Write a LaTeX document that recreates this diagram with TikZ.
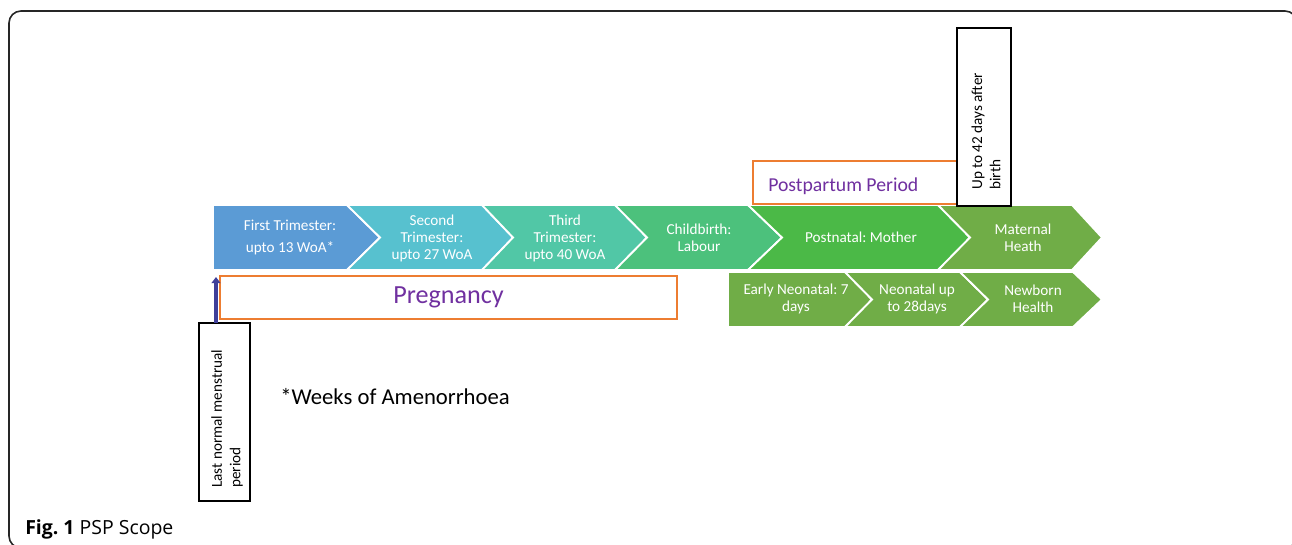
\documentclass[tikz,border=0pt]{standalone}
\usepackage{fontspec}
\setmainfont{Carlito}
\newfontfamily\capfont{Open Sans}
\usetikzlibrary{arrows.meta}
\frenchspacing
\definecolor{cA}{HTML}{5B9BD5}
\definecolor{cB}{HTML}{57C1CF}
\definecolor{cC}{HTML}{51C7A6}
\definecolor{cD}{HTML}{4CC17C}
\definecolor{cE}{HTML}{4BB947}
\definecolor{cF}{HTML}{70AD47}
\definecolor{orangeC}{HTML}{ED7D31}
\definecolor{purpleC}{HTML}{7030A0}
\definecolor{arrowC}{HTML}{3F3F99}
\begin{document}
\begin{tikzpicture}[x=0.75pt,y=-0.75pt,
  chev/.style={draw=white, line width=1.4pt, line join=miter},
  ctext/.style={text=white, font=\fontsize{11.4}{12.75}\selectfont, align=center, inner sep=0},
  obox/.style={draw=orangeC, line width=1.4pt, fill=white},
  kbox/.style={draw=black, line width=1.1pt, fill=white, inner sep=0},
  rtext/.style={rotate=90, anchor=west, align=left, inner sep=0, font=\fontsize{11.4}{13.8}\selectfont}]
\useasboundingbox (0,0) rectangle (1292,544);
\begin{scope}
\clip (0,0) rectangle (1292,544);
\draw[line width=1.2pt, rounded corners=9pt, black!85] (9,11) rectangle (1297,548);
\end{scope}
% row 1 chevrons
\filldraw[fill=cA, chev] (213,205) -- (347,205) -- (380,237.5) -- (347,270) -- (213,270) -- cycle;
\filldraw[fill=cB, chev] (347,205) -- (482,205) -- (513,237.5) -- (482,270) -- (347,270) -- (380,237.5) -- cycle;
\filldraw[fill=cC, chev] (482,205) -- (615,205) -- (647,237.5) -- (615,270) -- (482,270) -- (513,237.5) -- cycle;
\filldraw[fill=cD, chev] (615,205) -- (748,205) -- (782,237.5) -- (748,270) -- (615,270) -- (647,237.5) -- cycle;
\filldraw[fill=cE, chev] (748,205) -- (938,205) -- (970,237.5) -- (938,270) -- (748,270) -- (782,237.5) -- cycle;
\filldraw[fill=cF, chev] (938,205) -- (1072,205) -- (1102,237.5) -- (1072,270) -- (938,270) -- (970,237.5) -- cycle;
% row 2 chevrons
\filldraw[fill=cF, chev] (728,272) -- (845,272) -- (872,299.5) -- (845,327) -- (728,327) -- cycle;
\filldraw[fill=cF, chev] (845,272) -- (960,272) -- (988,299.5) -- (960,327) -- (845,327) -- (872,299.5) -- cycle;
\filldraw[fill=cF, chev] (960,272) -- (1073,272) -- (1102,299.5) -- (1073,327) -- (960,327) -- (988,299.5) -- cycle;
% chevron texts
\node[ctext, font=\fontsize{11.4}{17.2}\selectfont] (t1) at (290,237.5) {First Trimester:\\upto 13 WoA*};
\node[ctext] (t2) at (432,238) {Second\\Trimester:\\upto 27 WoA};
\node[ctext] (t3) at (565,238) {Third\\Trimester:\\upto 40 WoA};
\node[ctext] (t4) at (699,237.5) {Childbirth:\\Labour};
\node[ctext] (t5) at (861,237.5) {Postnatal: Mother};
\node[ctext] (t6) at (1023,237.5) {Maternal\\Heath};
\node[ctext] (t7) at (796,298.5) {Early Neonatal: 7\\days};
\node[ctext] (t8) at (917,298.5) {Neonatal up\\to 28days};
\node[ctext] (t9) at (1033,298.5) {Newborn\\Health};
% pregnancy box
\node[obox, minimum width=342.75pt, minimum height=32.25pt, inner sep=0] (pregbox) at (448.5,297.5) {};
\node[text=purpleC, font=\fontsize{19.6}{22}\selectfont, inner sep=0] (preg) at (448.5,297.5) {Pregnancy};
% postpartum box
\node[obox, minimum width=153.75pt, minimum height=32.25pt, inner sep=0] (ppbox) at (855.5,182.5) {};
\node[text=purpleC, font=\fontsize{14.8}{17}\selectfont, anchor=west, inner sep=0] (pp) at (768,186.5) {Postpartum Period};
% up to 42 days box
\node[kbox, minimum width=40.5pt, minimum height=133.5pt] (upbox) at (984,117) {};
\node[rtext] (uptext) at (986,190) {Up to 42 days after\\birth};
% last normal menstrual period box
\node[kbox, minimum width=38.25pt, minimum height=133.5pt] (lmpbox) at (224.5,412) {};
\node[rtext] (lmptext) at (227,488) {Last normal menstrual\\period};
\coordinate (lmpTop) at (216,323);
\coordinate (lmpTip) at (216,277);
\draw[arrowC, line width=2.6pt, -{Triangle[length=4.5pt,width=6.5pt]}] (lmpTop) -- (lmpTip);
% footnote
\node[anchor=west, inner sep=0, font=\fontsize{17}{19}\selectfont] (woa) at (280,397) {*Weeks of Amenorrhoea};
% caption
\node[anchor=base west, inner sep=0, font=\capfont\fontsize{14.6}{17}\selectfont] (cap) at (25,534) {\textbf{Fig. 1} PSP Scope};
\end{tikzpicture}
\end{document}
